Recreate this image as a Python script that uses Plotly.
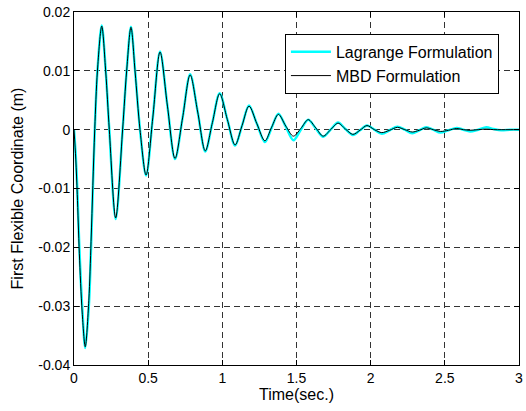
import plotly.graph_objects as go

# Time samples (s) and first flexible coordinate (m)
t_lag = [0, 0.012, 0.022, 0.036, 0.055, 0.076, 0.100, 0.115, 0.127, 0.140, 0.158, 0.187,
         0.214, 0.238, 0.281, 0.328, 0.355, 0.384, 0.412, 0.445, 0.486, 0.531, 0.58, 0.63,
         0.681, 0.732, 0.783, 0.834, 0.885, 0.933, 0.982, 1.034, 1.086, 1.133, 1.18, 1.233,
         1.287, 1.332, 1.378, 1.428, 1.479, 1.529, 1.579, 1.63, 1.68, 1.73, 1.78, 1.83, 1.88,
         1.928, 1.975, 2.025, 2.075, 2.128, 2.18, 2.23, 2.28, 2.328, 2.375, 2.422, 2.47,
         2.525, 2.58, 2.625, 2.67, 2.725, 2.78, 2.83, 2.88, 2.94, 3.0]
y_lag = [0, -0.0045, -0.0100, -0.0200, -0.0300, -0.0371, -0.0300, -0.0200, -0.0100, 0.0000,
         0.0100, 0.0177, 0.0100, 0.0000, -0.0152, 0.0000, 0.0100, 0.0175, 0.0100, 0.0000,
         -0.0078, 0.0020, 0.0133, 0.0040, -0.0050, 0.0020, 0.0094, 0.0030, -0.0037, 0.0012,
         0.0062, 0.0017, -0.0027, 0.0007, 0.0041, 0.0010, -0.0021, 0.0003, 0.0027, 0.0005,
         -0.0018, 0.0000, 0.0017, 0.0002, -0.0012, 0.0000, 0.0012, 0.0001, -0.0009, -0.0001,
         0.0007, 0.0000, -0.0007, -0.0001, 0.0005, 0.0000, -0.0006, -0.0001, 0.0004, 0.0000,
         -0.0005, -0.0001, 0.0003, 0.0000, -0.0003, 0.0000, 0.0004, 0.0001, -0.0001, 0.0000, 0.0000]

t_mbd = t_lag
y_mbd = [0, -0.0050, -0.0110, -0.0210, -0.0310, -0.0369, -0.0290, -0.0190, -0.0095, 0.0002,
         0.0100, 0.0176, 0.0098, 0.0000, -0.0150, 0.0001, 0.0100, 0.0174, 0.0098, 0.0000,
         -0.0077, 0.0020, 0.0132, 0.0040, -0.0049, 0.0020, 0.0093, 0.0030, -0.0036, 0.0012,
         0.0061, 0.0017, -0.0026, 0.0007, 0.0040, 0.0010, -0.0019, 0.0004, 0.0026, 0.0006,
         -0.0011, 0.0002, 0.0017, 0.0003, -0.0011, 0.0000, 0.0011, 0.0001, -0.0008, -0.0001,
         0.0007, 0.0000, -0.0005, -0.0001, 0.0004, 0.0000, -0.0004, -0.0001, 0.0003, 0.0000,
         -0.0003, -0.0001, 0.0002, 0.0000, -0.0001, 0.0000, 0.0001, 0.0000, 0.0000, 0.0000, 0.0000]

x_ticks = [0, 0.5, 1, 1.5, 2, 2.5, 3]
x_ticklabels = ["0", "0.5", "1", "1.5", "2", "2.5", "3"]
y_ticks = [-0.04, -0.03, -0.02, -0.01, 0, 0.01, 0.02]
y_ticklabels = ["-0.04", "-0.03", "-0.02", "-0.01", "0", "0.01", "0.02"]

FONT = "Liberation Sans, Arial, Helvetica, sans-serif"

fig = go.Figure()
fig.add_trace(go.Scatter(x=t_lag, y=y_lag, mode="lines", name="Lagrange Formulation",
                         line=dict(color="#00FFFF", width=2.5, shape="spline", smoothing=0.9)))
fig.add_trace(go.Scatter(x=t_mbd, y=y_mbd, mode="lines", name="MBD Formulation",
                         line=dict(color="black", width=1, shape="spline", smoothing=0.9)))

axis_common = dict(
    showline=True, linecolor="black", linewidth=1, mirror="ticks",
    ticks="inside", ticklen=5, tickcolor="black", tickwidth=1,
    showgrid=True, gridcolor="#333333", gridwidth=1, griddash="6px,4px",
    zeroline=False, tickfont=dict(family=FONT, size=14, color="black"),
)

fig.update_xaxes(range=[0, 3], tickmode="array", tickvals=x_ticks, ticktext=x_ticklabels,
                 title=dict(text="Time(sec.)", font=dict(family=FONT, size=16, color="black"), standoff=4),
                 **axis_common)
fig.update_yaxes(range=[-0.04, 0.02], tickmode="array", tickvals=y_ticks, ticktext=y_ticklabels,
                 title=dict(text="First Flexible Coordinate (m)", font=dict(family=FONT, size=16, color="black"), standoff=10),
                 **axis_common)

fig.update_layout(
    width=526, height=411,
    margin=dict(l=74, r=7, t=12, b=46, autoexpand=False),
    paper_bgcolor="white", plot_bgcolor="white",
    font=dict(family=FONT, color="black"),
    showlegend=True,
    legend=dict(x=0.474, y=0.938, xanchor="left", yanchor="top",
                bgcolor="white", bordercolor="black", borderwidth=1,
                font=dict(family=FONT, size=16, color="black"),
                tracegroupgap=0, itemwidth=40),
)

fig.write_html("out.html")
